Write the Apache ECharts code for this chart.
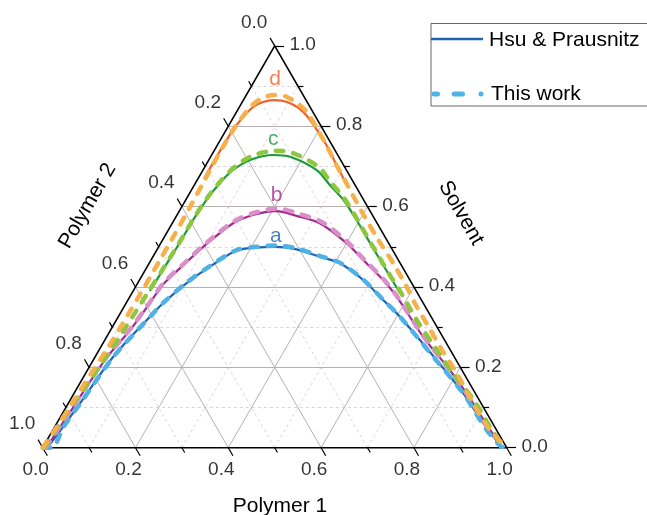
<!DOCTYPE html>
<html><head><meta charset="utf-8">
<script src="https://cdn.jsdelivr.net/npm/echarts@6/dist/echarts.min.js"></script>
<style>html,body{margin:0;padding:0;background:#fff}#c{width:647px;height:515px}</style>
</head><body><div id="c"></div>
<script>
// ---- data (ternary coordinates: [Polymer 1, Solvent]; Polymer 2 = 1 - P1 - S) ----
const tickValues = [0, 0.2, 0.4, 0.6, 0.8, 1.0];
const tickLabels = ['0.0', '0.2', '0.4', '0.6', '0.8', '1.0'];
const minorTickValues = [0.1, 0.3, 0.5, 0.7, 0.9];
const majorGrid = [0.2, 0.4, 0.6, 0.8];
const minorGrid = [0.1, 0.3, 0.5, 0.7, 0.9];

const hsuA = [[0.01,0],[0.018,0.052],[0.025,0.11],[0.039,0.227],[0.068,0.326],[0.08,0.36],[0.105,0.409],[0.135,0.4505],[0.172,0.49],[0.21,0.498],[0.25,0.50],[0.295,0.495],[0.36,0.475],[0.411,0.459],[0.482,0.4174],[0.55,0.3676],[0.607,0.326],[0.74,0.218],[0.839,0.135],[0.919,0.061],[0.99,0]];
const workA = [[0.0,0],[0.02,0.0],[0.019,0.05],[0.026,0.112],[0.04,0.229],[0.069,0.328],[0.08,0.362],[0.105,0.411],[0.135,0.453],[0.172,0.492],[0.21,0.5],[0.25,0.503],[0.295,0.497],[0.36,0.477],[0.411,0.46],[0.482,0.418],[0.55,0.368],[0.607,0.326],[0.74,0.217],[0.84,0.134],[0.935,0.044],[0.985,0.004],[1.0,0]];
const hsuB = [[0.008,0],[0.014,0.08],[0.025,0.218],[0.042,0.293],[0.05,0.351],[0.057,0.409],[0.078,0.459],[0.096,0.50],[0.131,0.5585],[0.16,0.578],[0.189,0.587],[0.2055,0.589],[0.224,0.587],[0.255,0.578],[0.318,0.5585],[0.401,0.5087],[0.4575,0.467],[0.525,0.4174],[0.575,0.3758],[0.682,0.276],[0.781,0.193],[0.846,0.135],[0.92,0.065],[0.99,0]];
const workB = [[0.006,0],[0.013,0.08],[0.024,0.22],[0.041,0.295],[0.049,0.353],[0.056,0.412],[0.077,0.462],[0.095,0.504],[0.13,0.563],[0.16,0.583],[0.189,0.593],[0.2055,0.595],[0.224,0.593],[0.255,0.584],[0.318,0.563],[0.401,0.512],[0.4575,0.469],[0.525,0.419],[0.575,0.377],[0.682,0.277],[0.781,0.193],[0.846,0.135],[0.92,0.064],[0.995,0]];
const hsuC = [[0.036,0.39],[0.038,0.45],[0.04,0.50],[0.041,0.57],[0.045,0.62],[0.053,0.66],[0.064,0.69],[0.089,0.716],[0.133,0.7285],[0.171,0.724],[0.245,0.691],[0.2925,0.6534],[0.34,0.6165],[0.3866,0.5729],[0.4633,0.497],[0.5355,0.4261],[0.578,0.3843]];
const workC = [[0.003,0],[0.007,0.06],[0.012,0.119],[0.022,0.21],[0.029,0.3],[0.034,0.39],[0.037,0.45],[0.039,0.50],[0.04,0.57],[0.044,0.625],[0.052,0.665],[0.064,0.698],[0.088,0.726],[0.133,0.739],[0.171,0.734],[0.245,0.699],[0.29,0.661],[0.338,0.622],[0.385,0.577],[0.462,0.50],[0.534,0.429],[0.577,0.388],[0.647,0.318],[0.728,0.243],[0.792,0.185],[0.869,0.119],[0.94,0.05],[0.995,0]];
const hsuD = [[0.013,0.67],[0.013,0.75],[0.016,0.80],[0.03,0.849],[0.0645,0.865],[0.1,0.859],[0.146,0.834],[0.2,0.787],[0.233,0.755],[0.285,0.70],[0.33,0.652]];
const workD = [[0.0,0],[0.004,0.044],[0.008,0.11],[0.012,0.185],[0.016,0.243],[0.018,0.31],[0.019,0.384],[0.019,0.46],[0.019,0.525],[0.018,0.60],[0.016,0.666],[0.014,0.75],[0.016,0.80],[0.028,0.858],[0.06,0.878],[0.09,0.873],[0.146,0.84],[0.2,0.788],[0.233,0.755],[0.275,0.71],[0.318,0.666],[0.398,0.5834],[0.465,0.517],[0.526,0.459],[0.584,0.4007],[0.6305,0.351],[0.672,0.31],[0.739,0.243],[0.80,0.185],[0.873,0.11],[0.942,0.044],[1.0,0]];

const curveLetters = ['a', 'b', 'c', 'd'];
const letterPos = [[0.239,0.527],[0.1895,0.629],[0.113,0.768],[0.0416,0.918]];

// ---- helpers ----
const SQ = Math.sqrt(3) / 2;
const toXY = (p1, s) => [p1 + s / 2, s * SQ];
const conv = arr => arr.map(p => toXY(p[0], p[1]));

const FONT = 'Liberation Sans, Arial, sans-serif';
const COL = {
  aS: '#1f63b3', aD: '#4fb2e6',
  bS: '#a22a8e', bD: '#da8fcb',
  cS: '#1d9a3b', cD: '#8dc63f',
  dS: '#f0622a', dD: '#f6b14c'
};

function seg(a, b) { return { coords: [a, b] }; }

const majorLines = [], minorLines = [];
majorGrid.forEach(v => {
  majorLines.push(seg(toXY(0, v), toXY(1 - v, v)));
  majorLines.push(seg(toXY(v, 0), toXY(v, 1 - v)));
  majorLines.push(seg(toXY(1 - v, 0), toXY(0, 1 - v)));
});
minorGrid.forEach(v => {
  minorLines.push(seg(toXY(0, v), toXY(1 - v, v)));
  minorLines.push(seg(toXY(v, 0), toXY(v, 1 - v)));
  minorLines.push(seg(toXY(1 - v, 0), toXY(0, 1 - v)));
});

const tickSegs = [];
function addTicks(vals, t) {
  vals.forEach(v => {
    tickSegs.push(seg(toXY(v, 0), toXY(v + t, -t)));          // bottom: Polymer 1
    tickSegs.push(seg(toXY(1 - v, v), toXY(1 - v + t, v)));  // right: Solvent
    tickSegs.push(seg(toXY(0, 1 - v), toXY(-t, 1 - v + t))); // left: Polymer 2
  });
}
addTicks(tickValues, 0.02);
addTicks(minorTickValues, 0.012);

function labelSeries(data, offset) {
  return {
    type: 'scatter', symbolSize: 1, silent: true, clip: false, z: 10,
    itemStyle: { color: 'rgba(0,0,0,0)' },
    label: { show: true, position: 'inside', offset: offset, formatter: '{b}',
      color: '#000', fontSize: 19, fontFamily: FONT },
    data: data
  };
}

const bottomLbl = tickValues.map((v, i) => ({ value: toXY(v, 0), name: tickLabels[i] }));
const rightLbl = tickValues.map((v, i) => ({ value: toXY(1 - v, v), name: tickLabels[i] }));
const leftLbl = tickValues.map((v, i) => ({ value: toXY(0, 1 - v), name: tickLabels[i] }));

function curve(name, data, color, dashed) {
  return {
    type: 'line', name: name, data: conv(data), showSymbol: false, smooth: 0.3,
    clip: false, silent: true, z: dashed ? 6 : 5,
    lineStyle: dashed
      ? { color: color, width: 4.5, type: [7.5, 10], cap: 'round' }
      : { color: color, width: 2.2 }
  };
}

const chart = echarts.init(document.getElementById('c'), null, { renderer: 'canvas' });
chart.setOption({
  animation: false,
  backgroundColor: '#fff',
  grid: { left: 42.7, top: 45.9, width: 464, height: 401.8, containLabel: false },
  xAxis: { type: 'value', min: 0, max: 1, show: false },
  yAxis: { type: 'value', min: 0, max: SQ, show: false },
  series: [
    { type: 'lines', coordinateSystem: 'cartesian2d', clip: false, silent: true, z: 1,
      lineStyle: { color: '#d2cccc', width: 0.8, type: [3, 3], opacity: 1, curveness: 0 },
      data: minorLines },
    { type: 'lines', coordinateSystem: 'cartesian2d', clip: false, silent: true, z: 2,
      lineStyle: { color: '#b9b0b0', width: 1, opacity: 1, curveness: 0 },
      data: majorLines },
    { type: 'lines', coordinateSystem: 'cartesian2d', clip: false, silent: true, z: 3,
      lineStyle: { color: '#000', width: 1.2, opacity: 1, curveness: 0 },
      data: tickSegs },
    { type: 'lines', coordinateSystem: 'cartesian2d', polyline: true, clip: false, silent: true, z: 3,
      lineStyle: { color: '#000', width: 1.6, opacity: 1, curveness: 0, join: 'miter' },
      data: [{ coords: [toXY(0, 0), toXY(1, 0), toXY(0, 1), toXY(0, 0)] }] },
    curve('Hsu a', hsuA, COL.aS, false),
    curve('Hsu b', hsuB, COL.bS, false),
    curve('Hsu c', hsuC, COL.cS, false),
    curve('Hsu d', hsuD, COL.dS, false),
    curve('Work a', workA, COL.aD, true),
    curve('Work b', workB, COL.bD, true),
    curve('Work c', workC, COL.cD, true),
    curve('Work d', workD, COL.dD, true),
    labelSeries(bottomLbl, [-7, 22]),
    labelSeries(rightLbl, [28, -1]),
    labelSeries(leftLbl, [-20.5, -23.5]),
    {
      type: 'scatter', symbolSize: 1, silent: true, clip: false, z: 10,
      itemStyle: { color: 'rgba(0,0,0,0)' },
      data: curveLetters.map((l, i) => ({
        value: toXY(letterPos[i][0], letterPos[i][1]), name: l,
        label: { color: [COL.aS, COL.bS, COL.cS, COL.dS][i] }
      })),
      label: { show: true, position: 'inside', formatter: '{b}', fontSize: 21, fontFamily: FONT }
    }
  ],
  graphic: [
    { type: 'text', x: 280, y: 506, z: 20,
      style: { text: 'Polymer 1', font: '21px ' + FONT, fill: '#000', textAlign: 'center', textVerticalAlign: 'middle' } },
    { type: 'text', x: 87.5, y: 206, rotation: Math.PI / 3, z: 20,
      style: { text: 'Polymer 2', font: '21px ' + FONT, fill: '#000', textAlign: 'center', textVerticalAlign: 'middle' } },
    { type: 'text', x: 461, y: 213, rotation: -Math.PI / 3, z: 20,
      style: { text: 'Solvent', font: '21px ' + FONT, fill: '#000', textAlign: 'center', textVerticalAlign: 'middle' } },
    { type: 'rect', z: 20, shape: { x: 431, y: 23.5, width: 240, height: 82.5 },
      style: { fill: '#fff', stroke: '#666', lineWidth: 1 } },
    { type: 'line', z: 21, shape: { x1: 431, y1: 39, x2: 483, y2: 39 },
      style: { stroke: COL.aS, lineWidth: 2.4 } },
    { type: 'text', z: 21, x: 489, y: 40,
      style: { text: 'Hsu & Prausnitz', font: '21px ' + FONT, fill: '#000', textVerticalAlign: 'middle' } },
    { type: 'line', z: 21, shape: { x1: 434, y1: 94, x2: 482, y2: 94 },
      style: { stroke: COL.aD, lineWidth: 5, lineCap: 'round', lineDash: [3.5, 16.7, 8.3, 18.5, 0.01, 60] } },
    { type: 'text', z: 21, x: 491, y: 94,
      style: { text: 'This work', font: '21px ' + FONT, fill: '#000', textVerticalAlign: 'middle' } }
  ]
});
</script>
</body></html>
